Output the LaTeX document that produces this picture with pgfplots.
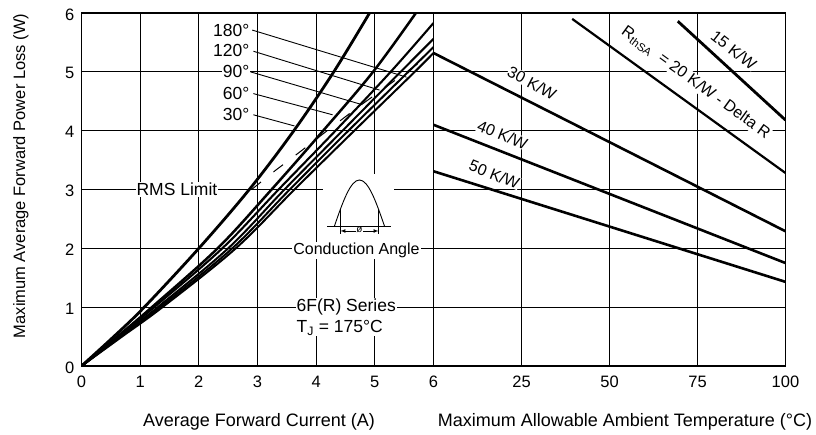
\documentclass[border=0pt]{standalone}
\usepackage{fontspec}
\setmainfont{Liberation Sans}
\usepackage{pgfplots}
\pgfplotsset{compat=1.18}
\newcommand\fs[2]{\fontsize{#1bp}{#2bp}\selectfont}

\pgfplotsset{
  panel/.style={
    scale only axis, height=353bp, anchor=south west,
    ymin=0, ymax=6, ytick={0,...,6},
    grid=major, major grid style={black, line width=1.05bp},
    axis line style={line width=1.2bp},
    major tick length=0pt,
    tick label style={font=\fs{16.5}{19}},
    xticklabel style={inner sep=0pt, yshift=-10bp},
    yticklabel style={inner sep=0pt, xshift=-7bp, yshift=-1.5bp},
  },
  curve/.style={black, line width=#1, smooth, tension=0.55},
  sink/.style={black, line width=#1},
}
\tikzset{
  lab/.style={fill=white, inner sep=1bp, font=\fs{17.5}{21}},
  rlab/.style={fill=white, inner sep=0.5bp, font=\fs{16}{19}},
}

\begin{document}
\begin{tikzpicture}
\useasboundingbox (0,0) rectangle (816bp,435bp);

% forward power loss vs average current
\begin{axis}[panel, at={(81.5bp,69bp)}, width=352bp,
  xmin=0, xmax=6, xtick={0,...,6},
  xticklabels={0,1,2,3,4,5,6}, yticklabels={0,1,2,3,4,5,6}]
  % 30 deg
  \addplot[curve=2.8bp] coordinates {(0,0) (0.55,0.5) (1.07,1) (2.0,2) (2.86,3) (3.62,4) (4.30,5) (4.91,6)};
  % 60 deg
  \addplot[curve=2.5bp] coordinates {(0,0) (0.61,0.5) (1.2,1) (2.32,2) (3.24,3) (4.12,4) (4.97,5) (5.70,6)};
  % 90 deg
  \addplot[curve=2.1bp] coordinates {(0,0) (0.63,0.5) (1.24,1) (2.4,2) (3.36,3) (4.33,4) (5.27,5) (6,5.83)};
  % 120 deg
  \addplot[curve=2bp] coordinates {(0,0) (0.65,0.5) (1.3,1) (2.5,2) (3.46,3) (4.45,4) (5.44,5) (6,5.56)};
  % 180 deg
  \addplot[curve=2bp] coordinates {(0,0) (0.67,0.5) (1.34,1) (2.57,2) (3.55,3) (4.55,4) (5.57,5) (6,5.42)};
  % DC
  \addplot[curve=2bp] coordinates {(0,0) (0.69,0.5) (1.38,1) (2.63,2) (3.63,3) (4.65,4) (5.68,5) (6,5.32)};
  % RMS limit
  \addplot[black, line width=1bp, dash pattern=on 12bp off 16bp] coordinates {(2.9,3.0) (3.3,3.32) (3.75,3.66) (4.2,4.01) (4.7,4.39) (5.2,4.75) (5.75,5.15)};

  % leaders
  \draw[line width=0.9bp] (axis cs:2.91,5.71) -- (axis cs:5.54,4.91);
  \draw[line width=0.9bp] (axis cs:2.93,5.35) -- (axis cs:5.08,4.69);
  \draw[line width=0.9bp] (axis cs:2.88,5.00) -- (axis cs:4.79,4.44);
  \draw[line width=0.9bp] (axis cs:2.93,4.63) -- (axis cs:4.28,4.27);
  \draw[line width=0.9bp] (axis cs:2.93,4.27) -- (axis cs:3.63,4.08);
  \node[lab, anchor=east] at (axis cs:2.88,5.71) {180°};
  \node[lab, anchor=east] at (axis cs:2.88,5.37) {120°};
  \node[lab, anchor=east] at (axis cs:2.88,5.00) {90°};
  \node[lab, anchor=east] at (axis cs:2.88,4.64) {60°};
  \node[lab, anchor=east] at (axis cs:2.88,4.27) {30°};
  \node[lab] at (axis cs:1.627,3.0) {RMS Limit};

  % conduction angle sketch
  \fill[white] (axis cs:4.108,2.10) rectangle (axis cs:5.335,3.26);
  \draw[line width=0.8bp] (axis cs:4.193,2.38) -- (axis cs:5.284,2.38);
  \draw[line width=0.9bp] (axis cs:4.312,2.38) sin (axis cs:4.738,3.162) cos (axis cs:5.164,2.38);
  \draw[line width=0.9bp] (axis cs:4.414,2.667) -- (axis cs:4.414,2.25);
  \draw[line width=0.9bp] (axis cs:5.062,2.667) -- (axis cs:5.062,2.25);
  \draw[line width=0.7bp, latex-latex] (axis cs:4.414,2.295) -- (axis cs:5.062,2.295);
  \node[fill=white, inner sep=0.5bp, font=\fs{10}{12}] at (axis cs:4.738,2.31) {ø};
  \node[fill=white, inner sep=1bp, font=\fs{16}{19}] at (axis cs:4.687,1.97) {Conduction Angle};
  \node[lab, anchor=north west, align=left] at (axis cs:3.647,1.16)
    {6F(R) Series\\T\textsubscript{J} = 175°C};
\end{axis}

% allowable ambient temperature
\begin{axis}[panel, at={(433.5bp,69bp)}, width=352bp,
  xmin=0, xmax=100, xtick={0,25,50,75,100},
  xticklabels={,25,50,75,100}, yticklabels={,,,,,,}]
  \addplot[sink=2.8bp] coordinates {(69.4,5.86) (100,4.18)};
  \addplot[sink=2.2bp] coordinates {(39.4,5.90) (100,3.28)};
  \addplot[sink=2.6bp] coordinates {(0,5.32) (100,2.29)};
  \addplot[sink=2.6bp] coordinates {(0,4.10) (100,1.75)};
  \addplot[sink=2.6bp] coordinates {(0,3.31) (100,1.43)};
  \node[rlab, rotate=-38] at (axis cs:85.3,5.37) {15 K/W};
  \node[rlab, rotate=-36] at (axis cs:74.5,4.81) {R\textsubscript{thSA}\ \ = 20 K/W - Delta R};
  \node[rlab, rotate=-28] at (axis cs:28.0,4.81) {30 K/W};
  \node[rlab, rotate=-22] at (axis cs:19.6,3.93) {40 K/W};
  \node[rlab, rotate=-22] at (axis cs:17.3,3.26) {50 K/W};
\end{axis}

\node[anchor=base, font=\fs{18}{21}] at (259bp,9bp) {Average Forward Current (A)};
\node[anchor=base, font=\fs{18}{21}] at (625bp,9bp) {Maximum Allowable Ambient Temperature (°C)};
\node[anchor=base, rotate=90, font=\fs{16.5}{19}] at (25bp,259bp) {Maximum Average Forward Power Loss (W)};
\end{tikzpicture}
\end{document}
